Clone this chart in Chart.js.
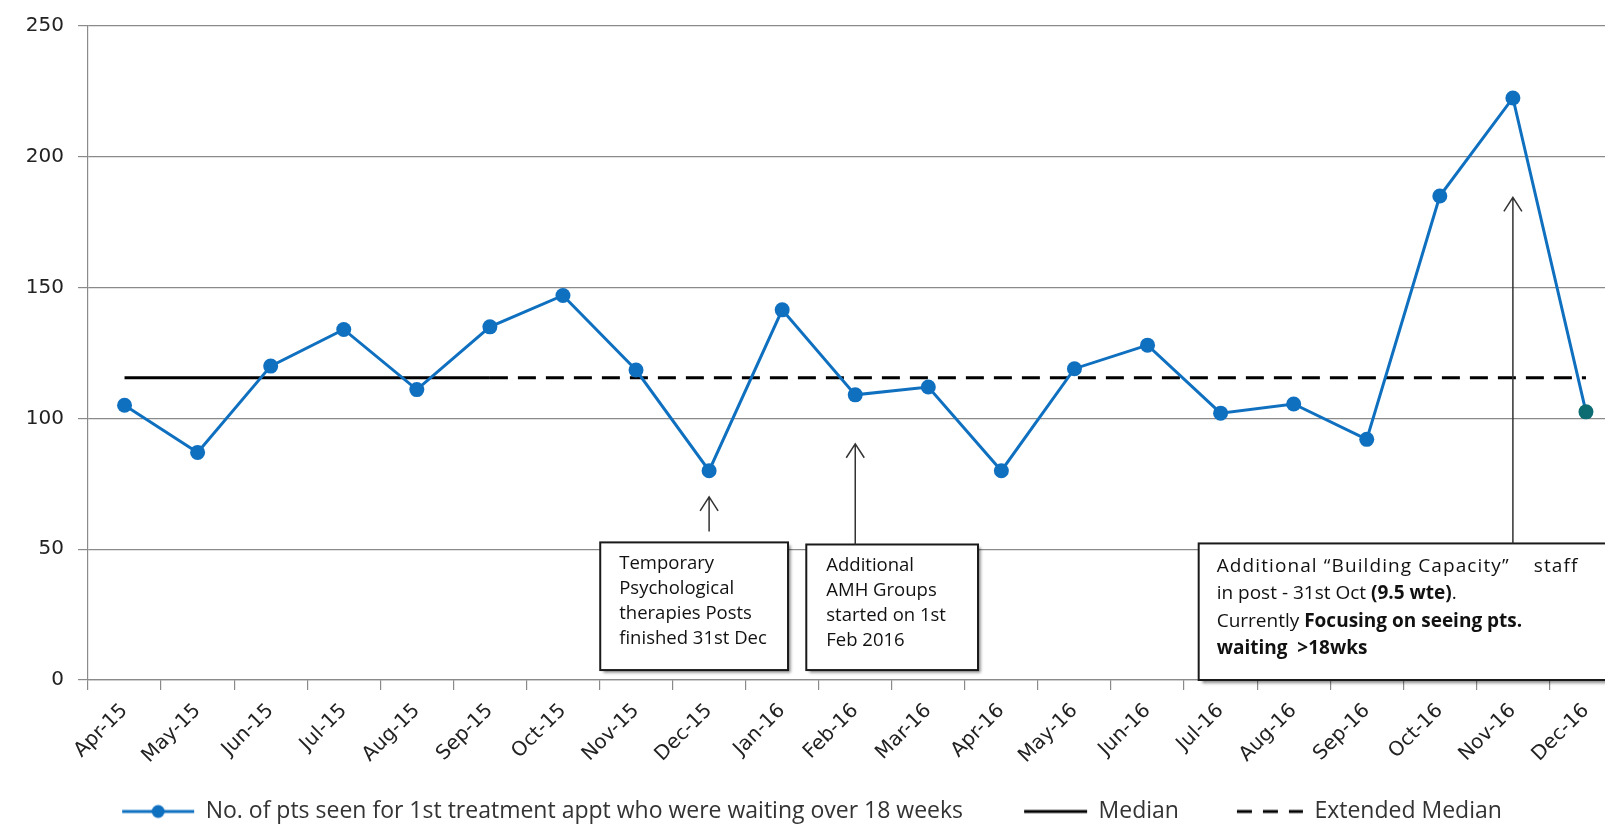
<!DOCTYPE html>
<html>
<head>
<meta charset="utf-8">
<script src="https://cdn.jsdelivr.net/npm/chart.js@4.4.1/dist/chart.umd.min.js"></script>
<style>
    html, body { margin: 0; padding: 0; background: #fff; overflow: hidden; }
    #wrap { position: absolute; left: 0; top: 0; width: 1630px; height: 833px; }
</style>
</head>
<body>
<div id="wrap"><canvas id="chart" width="1630" height="833"></canvas></div>
<script>
// Datos
const months = ['Apr-15', 'May-15', 'Jun-15', 'Jul-15', 'Aug-15', 'Sep-15', 'Oct-15', 'Nov-15', 'Dec-15',
    'Jan-16', 'Feb-16', 'Mar-16', 'Apr-16', 'May-16', 'Jun-16', 'Jul-16', 'Aug-16', 'Sep-16', 'Oct-16', 'Nov-16', 'Dec-16'];
const seenOver18 = [105, 87, 120, 134, 111, 135, 147, 118.5, 80, 141.5, 109, 112, 80, 119, 128, 102, 105.5, 92, 185, 222.5, 102.5];
const median = [115.5, 115.5, 115.5, 115.5, 115.5, 115.5, null, null, null, null, null, null, null, null, null, null, null, null, null, null, null];
const extendedMedian = [null, null, null, null, null, 115.5, 115.5, 115.5, 115.5, 115.5, 115.5, 115.5, 115.5, 115.5, 115.5, 115.5, 115.5, 115.5, 115.5, 115.5, 115.5];
const yTicks = [0, 50, 100, 150, 200, 250];
const seriesNames = ['No. of pts seen for 1st treatment appt who were waiting over 18 weeks', 'Median', 'Extended Median'];

// Textos de las notas
const noteDec15 = ['Temporary', 'Psychological', 'therapies Posts', 'finished 31st Dec'];
const noteFeb16 = ['Additional', 'AMH Groups', 'started on 1st', 'Feb 2016'];
const noteNov16 = [
    [['Additional \u201cBuilding Capacity\u201d    staff', false, 1.1]],
    [['in post - 31st Oct ', false], ['(9.5 wte)', true], ['.', false]],
    [['Currently ', false], ['Focusing on seeing pts.', true]],
    [['waiting  >18wks', true]]
];

const BLUE = '#1070c0';
const GRID = '#8a8a8a';

// Notas ancladas a las escalas (indice de categoria / valor)
const notes = [
    { at: 8, tip: 70, base: 56.8, from: 6.51, to: 9.08, top: 52.6, bottom: 3.8, size: 18.5, gap: 25, first: 21, pad: 19,
      lines: noteDec15.map(t => [[t, false]]) },
    { at: 10, tip: 90.3, base: 51.8, from: 9.33, to: 11.68, top: 51.8, bottom: 3.8, size: 18.5, gap: 25, first: 21, pad: 20,
      lines: noteFeb16.map(t => [[t, false]]) },
    { at: 19, tip: 184.5, base: 52.2, from: 14.7, to: 20.7, top: 52.2, bottom: 0, size: 19, gap: 27.5, first: 23, pad: 18,
      lines: noteNov16 }
];

const notesPlugin = {
    id: 'notes',
    afterDatasetsDraw(chart) {
        const { ctx, scales: { x, y } } = chart;
        notes.forEach(n => {
            const l = x.getPixelForValue(n.from);
            const r = x.getPixelForValue(n.to);
            const t = y.getPixelForValue(n.top);
            const b = y.getPixelForValue(n.bottom);
            ctx.save();
            ctx.shadowColor = 'rgba(0,0,0,0.5)';
            ctx.shadowOffsetX = 3;
            ctx.shadowOffsetY = 3;
            ctx.shadowBlur = 3;
            ctx.fillStyle = '#fff';
            ctx.fillRect(l, t, r - l, b - t);
            ctx.restore();

            ctx.save();
            ctx.strokeStyle = '#1a1a1a';
            ctx.lineWidth = 2;
            ctx.strokeRect(l, t, r - l, b - t);

            ctx.fillStyle = '#111';
            ctx.textBaseline = 'middle';
            n.lines.forEach((runs, i) => {
                let cx = l + n.pad;
                const cy = t + n.first + i * n.gap;
                runs.forEach(([text, bold, spacing]) => {
                    ctx.font = (bold ? 'bold ' : '') + n.size + 'px "Open Sans"';
                    ctx.letterSpacing = (spacing || 0) + 'px';
                    ctx.fillText(text, cx, cy);
                    cx += ctx.measureText(text).width;
                });
                ctx.letterSpacing = '0px';
            });

            // flecha
            const ax = x.getPixelForValue(n.at);
            const tipY = y.getPixelForValue(n.tip);
            const baseY = y.getPixelForValue(n.base);
            ctx.strokeStyle = '#333';
            ctx.lineWidth = 1.5;
            ctx.beginPath();
            ctx.moveTo(ax, baseY);
            ctx.lineTo(ax, tipY);
            ctx.moveTo(ax - 9, tipY + 14);
            ctx.lineTo(ax, tipY);
            ctx.lineTo(ax + 9, tipY + 14);
            ctx.stroke();
            ctx.restore();
        });
    }
};

// Iconos de leyenda
function makeIcon(draw) {
    const c = document.createElement('canvas');
    c.width = 78;
    c.height = 16;
    draw(c.getContext('2d'));
    return c;
}
const legendIcons = [
    makeIcon(g => {
        g.strokeStyle = BLUE; g.lineWidth = 3;
        g.beginPath(); g.moveTo(3, 8); g.lineTo(75, 8); g.stroke();
        g.fillStyle = BLUE;
        g.beginPath(); g.arc(39, 8, 6.5, 0, Math.PI * 2); g.fill();
    }),
    makeIcon(g => {
        g.strokeStyle = '#000'; g.lineWidth = 3;
        g.beginPath(); g.moveTo(12, 8); g.lineTo(75, 8); g.stroke();
    }),
    makeIcon(g => {
        g.strokeStyle = '#000'; g.lineWidth = 3;
        g.setLineDash([15, 11]);
        g.beginPath(); g.moveTo(9, 8); g.lineTo(75, 8); g.stroke();
    })
];

const pointColors = seenOver18.map((v, i) => i === seenOver18.length - 1 ? '#0d6b72' : BLUE);

new Chart(document.getElementById('chart'), {
    type: 'line',
    data: {
        labels: months,
        datasets: [
            {
                label: seriesNames[0],
                data: seenOver18,
                borderColor: BLUE,
                backgroundColor: BLUE,
                borderWidth: 3,
                pointRadius: 7.5,
                pointBackgroundColor: pointColors,
                pointBorderColor: pointColors,
                pointBorderWidth: 0,
                tension: 0
            },
            {
                label: seriesNames[1],
                data: median,
                borderColor: '#000',
                borderWidth: 3,
                pointRadius: 0,
                spanGaps: false
            },
            {
                label: seriesNames[2],
                data: extendedMedian,
                borderColor: '#000',
                borderWidth: 3,
                borderDash: [18, 10],
                pointRadius: 0,
                spanGaps: false
            }
        ]
    },
    options: {
        responsive: false,
        animation: false,
        layout: { padding: { top: 21, right: 6, left: 0, bottom: 0 } },
        plugins: {
            tooltip: { enabled: false },
            legend: {
                position: 'bottom',
                labels: {
                    usePointStyle: true,
                    pointStyleWidth: 72,
                    padding: 52,
                    color: '#333',
                    font: { family: 'Open Sans', size: 23 },
                    generateLabels(chart) {
                        const items = Chart.defaults.plugins.legend.labels.generateLabels(chart);
                        items.forEach((it, i) => { it.pointStyle = legendIcons[i]; });
                        return items;
                    }
                }
            }
        },
        scales: {
            x: {
                offset: true,
                grid: { offset: true, drawOnChartArea: false, tickLength: 10, color: GRID, lineWidth: 1.2 },
                border: { color: GRID, width: 1.2 },
                ticks: {
                    autoSkip: false,
                    minRotation: 45,
                    maxRotation: 45,
                    padding: 9,
                    color: '#222',
                    font: { family: 'DejaVu Sans', size: 20 }
                },
                afterFit: s => {
                    s.height = 68;
                    // las etiquetas giradas pueden salir del alto fijado
                    s._computeLabelArea = () => null;
                }
            },
            y: {
                min: 0,
                max: 250,
                afterBuildTicks: s => { s.ticks = yTicks.map(v => ({ value: v })); },
                grid: { color: GRID, lineWidth: 1.2, tickLength: 10 },
                border: { color: GRID, width: 1.2 },
                ticks: {
                    padding: 14,
                    color: '#222',
                    font: { family: 'DejaVu Sans', size: 20 }
                },
                afterFit: s => { s.width = 88; }
            }
        }
    },
    plugins: [notesPlugin]
});
</script>
</body>
</html>
